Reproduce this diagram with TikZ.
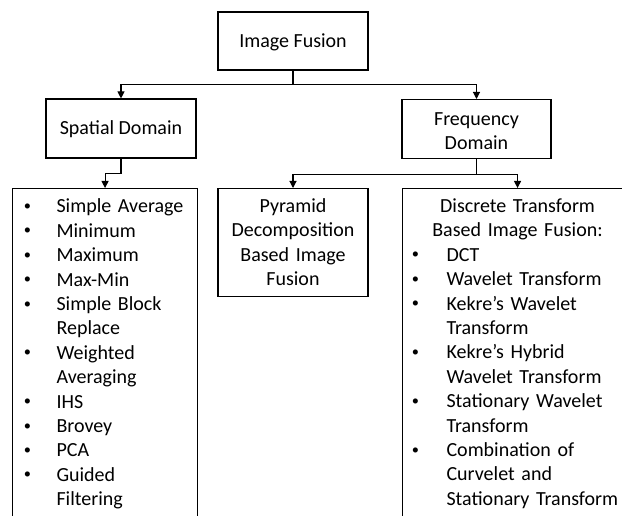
\documentclass[tikz,border=0pt]{standalone}
\usepackage{fontspec}
\usepackage{graphicx}
\setmainfont{Carlito}
\usetikzlibrary{arrows.meta}
\newcommand{\bitem}[2]{\par\hangindent=44pt\hangafter=1\noindent\makebox[44pt][l]{\hspace{#1pt}\makebox[0pt]{\raisebox{2.5pt}{\scalebox{0.72}{•}}}}#2}
\begin{document}
\begin{tikzpicture}[x=1pt,y=-1pt,
  font=\fontsize{20}{24.4}\selectfont,
  box/.style={draw, line width=1.1pt, inner sep=0pt},
  arr/.style={line width=1.1pt, -{Triangle[width=7pt,length=7pt]}}]
\useasboundingbox (0,0) rectangle (622,516);
\clip (0,0) rectangle (622,516);
\node[box, minimum width=150pt, minimum height=58pt, text height=13pt, text depth=0pt] (if) at (293,41) {Image Fusion};
\node[box, minimum width=150pt, minimum height=59pt, text height=13pt, text depth=0pt] (sd) at (121,128.5) {Spatial Domain};
\node[box, minimum width=149pt, align=center, anchor=north] (fd) at (476.5,99) {\rule{0pt}{25.6pt}Frequency\\Domain\rule[-9pt]{0pt}{9pt}};
\node[box, text width=150pt, align=center, anchor=north] (pyr) at (293,188) {\rule{0pt}{24pt}Pyramid\\Decomposition\\Based Image\\Fusion\rule[-10.8pt]{0pt}{10.8pt}};
\node[box, text width=185pt, anchor=north west] (spl) at (12,188) {\raggedright
  \bitem{15}{\rule{0pt}{24pt}Simple Average}
  \bitem{15}{Minimum}
  \bitem{15}{Maximum}
  \bitem{15}{Max-Min}
  \bitem{15}{Simple Block\newline Replace}
  \bitem{15}{Weighted\newline Averaging}
  \bitem{15}{IHS}
  \bitem{15}{Brovey}
  \bitem{15}{PCA}
  \bitem{15}{Guided\newline Filtering\rule[-60pt]{0pt}{60pt}}\par};
\node[box, text width=230pt, anchor=north west] (frl) at (402,188) {{\centering\rule{0pt}{24pt}Discrete Transform\\Based Image Fusion:\par}\raggedright
  \bitem{13}{DCT}
  \bitem{13}{Wavelet Transform}
  \bitem{13}{Kekre’s Wavelet\newline Transform}
  \bitem{13}{Kekre’s Hybrid\newline Wavelet Transform}
  \bitem{13}{Stationary Wavelet\newline Transform}
  \bitem{13}{Combination of\newline Curvelet and\newline Stationary Transform\rule[-60pt]{0pt}{60pt}}\par};
\draw[arr] (if.south) -- ++(0,14) -| (sd.north);
\draw[arr] (if.south) -- ++(0,14) -| (fd.north);
\draw[arr] (sd.south) -- ++(0,15) -| (spl.north);
\draw[arr] (fd.south) -- ++(0,15) -| (pyr.north);
\draw[arr] (fd.south) -- ++(0,15) -| (frl.north);
\end{tikzpicture}
\end{document}
